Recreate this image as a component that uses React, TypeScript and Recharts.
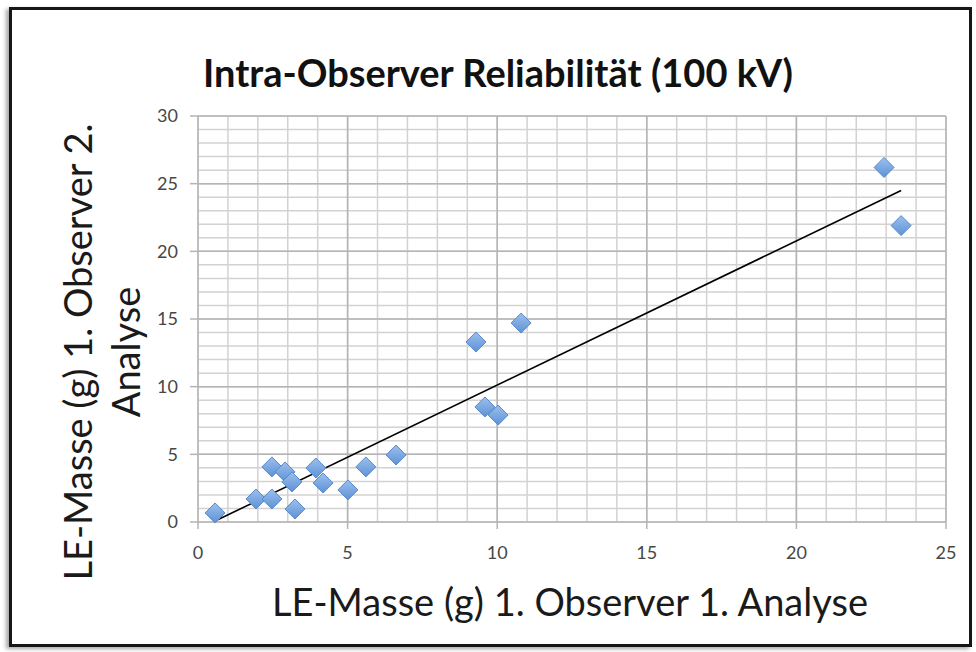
import { ScatterChart, Scatter, XAxis, YAxis, CartesianGrid, ReferenceLine } from 'recharts'

// LE-Masse (g): 1. Observer 1. Analyse vs 1. Observer 2. Analyse
const analyse1 = [0.57, 1.94, 2.47, 2.47, 2.91, 3.14, 3.24, 3.94, 4.18, 5.01, 5.61, 6.62, 9.29, 9.59, 10.03, 10.8, 22.93, 23.5]
const analyse2 = [0.67, 1.7, 1.7, 4.07, 3.7, 2.96, 0.96, 3.99, 2.88, 2.37, 4.07, 4.95, 13.3, 8.5, 7.9, 14.7, 26.2, 21.9]

// linear trendline end points, as drawn
const trendX = [0.57, 23.5]
const trendY = [0.07, 24.5]

const xTicks = Array.from({ length: 26 }, (_, i) => i)
const yTicks = Array.from({ length: 31 }, (_, i) => i)
const xMajor = [5, 10, 15, 20, 25]
const yMajor = [5, 10, 15, 20, 25, 30]

const points = analyse1.map((x, i) => ({ x, y: analyse2[i] }))

const FONT = 'Lato, "Open Sans", sans-serif'
const TICK_COLOR = '#474747'
const GRID = '#d2d2d2'
const MAJOR = '#b4b4b4'
const Y_MARGIN = 20
const X_MARGIN = 24

function Diamond(props: any) {
  const { cx, cy } = props
  if (cx == null || cy == null) return <g />
  const r = 10
  return (
    <g>
      <defs>
        <linearGradient id="dia" x1="0" y1="0" x2="0" y2="1">
          <stop offset="0%" stopColor="#9cc0ee" />
          <stop offset="100%" stopColor="#5d92d6" />
        </linearGradient>
      </defs>
      <polygon
        points={`${cx},${cy - r} ${cx + r},${cy} ${cx},${cy + r} ${cx - r},${cy}`}
        fill="url(#dia)"
        stroke="#5a89c8"
        strokeWidth={1}
      />
    </g>
  )
}

function YTick(p: any) {
  const v = p.payload.value
  if (v % 5 !== 0) return <g />
  return (
    <g>
      <line x1={p.x + Y_MARGIN - 8} x2={p.x + Y_MARGIN} y1={p.y} y2={p.y} stroke={MAJOR} strokeWidth={1.5} />
      <text x={p.x} y={p.y} dy="0.35em" textAnchor="end" fill={TICK_COLOR} fontSize={18} fontFamily={FONT}>{v}</text>
    </g>
  )
}

function XTick(p: any) {
  const v = p.payload.value
  if (v % 5 !== 0) return <g />
  return (
    <g>
      <line x1={p.x} x2={p.x} y1={p.y - X_MARGIN} y2={p.y - X_MARGIN + 7} stroke={MAJOR} strokeWidth={1.5} />
      <text x={p.x} y={p.y} dy="0.71em" textAnchor="middle" fill={TICK_COLOR} fontSize={18} fontFamily={FONT}>{v}</text>
    </g>
  )
}

export default function App() {
  return (
    <div style={{ position: 'absolute', left: 0, top: 0, width: 976, height: 652, background: '#fff', fontFamily: FONT }}>
      <div style={{
        position: 'absolute', left: 9, top: 7, width: 957, height: 634,
        border: '3px solid #161616', boxShadow: '-3px 2px 4px rgba(0,0,0,0.35)',
      }} />
      <div style={{
        position: 'absolute', left: 498 - 400, width: 800, top: 48, lineHeight: '48px', textAlign: 'center',
        fontSize: 38, fontWeight: 700, color: '#111', whiteSpace: 'nowrap',
      }}>
        Intra-Observer Reliabilität (100 kV)
      </div>
      <div style={{
        position: 'absolute', left: 101 - 280, top: 352 - 48, width: 560, height: 96,
        transform: 'rotate(-90deg)', transformOrigin: 'center', textAlign: 'center',
        fontSize: 38, lineHeight: '48px', color: '#1a1a1a', whiteSpace: 'nowrap',
      }}>
        LE-Masse (g) 1. Observer 2.<br />Analyse
      </div>
      <div style={{
        position: 'absolute', left: 570 - 400, width: 800, top: 577, lineHeight: '48px', textAlign: 'center',
        fontSize: 38, color: '#1a1a1a', whiteSpace: 'nowrap',
      }}>
        LE-Masse (g) 1. Observer 1. Analyse
      </div>
      <div style={{ position: 'absolute', left: 0, top: 0 }}>
        <ScatterChart width={976} height={652} margin={{ top: 116, right: 30, bottom: 100, left: 158 }}>
          <CartesianGrid stroke={GRID} strokeWidth={1.5} />
          <XAxis
            type="number" dataKey="x" domain={[0, 25]} ticks={xTicks} interval={0}
            tick={<XTick />} tickLine={false} tickSize={0} tickMargin={X_MARGIN} height={30}
            axisLine={{ stroke: MAJOR, strokeWidth: 1.5 }}
          />
          <YAxis
            type="number" dataKey="y" domain={[0, 30]} ticks={yTicks} interval={0}
            tick={<YTick />} tickLine={false} tickSize={0} tickMargin={Y_MARGIN} width={40}
            axisLine={{ stroke: MAJOR, strokeWidth: 1.5 }}
          />
          {xMajor.map(v => <ReferenceLine key={'x' + v} x={v} stroke={MAJOR} strokeWidth={1.5} />)}
          {yMajor.map(v => <ReferenceLine key={'y' + v} y={v} stroke={MAJOR} strokeWidth={1.5} />)}
          <ReferenceLine
            segment={[{ x: trendX[0], y: trendY[0] }, { x: trendX[1], y: trendY[1] }]}
            stroke="#000" strokeWidth={1.6}
          />
          <Scatter data={points} shape={Diamond} isAnimationActive={false} />
        </ScatterChart>
      </div>
    </div>
  )
}
